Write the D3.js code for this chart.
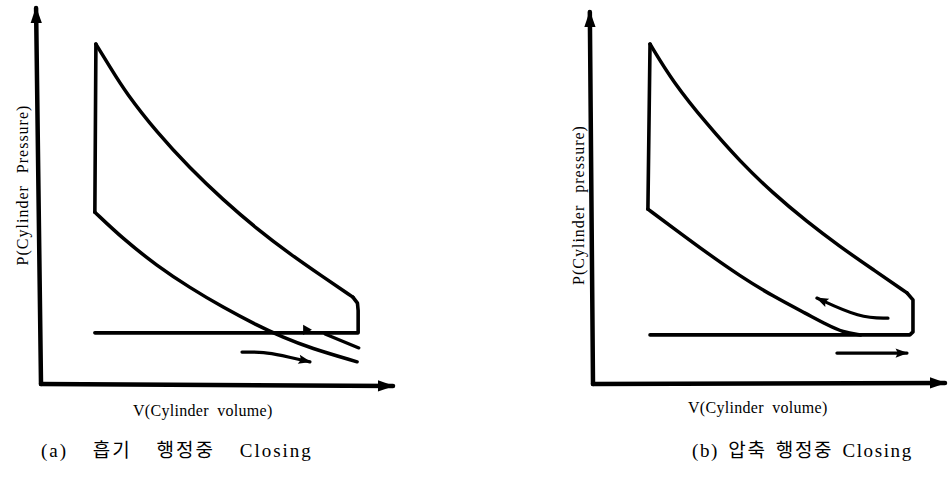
<!DOCTYPE html>
<html>
<head>
<meta charset="utf-8">
<script src="https://cdn.jsdelivr.net/npm/d3@7"></script>
<style>
  html, body { margin: 0; padding: 0; background: #fff; }
  svg { display: block; }
</style>
</head>
<body>
<svg id="chart" width="950" height="482"></svg>
<script>
// ---------- data (V, P in relative units 0..100) ----------
const panelIds = ["a", "b"];
const yAxisLabels = ["P(Cylinder Pressure)", "P(Cylinder pressure)"];
const xAxisLabels = ["V(Cylinder volume)", "V(Cylinder volume)"];
const captions = ["(a) 흡기 행정중 Closing", "(b) 압축 행정중 Closing"];

// panel (a)
const aAxisY = [[0, 0], [-1.4, 100]];
const aAxisX = [[0, 0], [100, -0.5]];
const aVertical = [[15.3, 45.7], [15.6, 90.4]];
const aExpansion = [[15.6, 90.4], [19.8, 84.0], [24.0, 77.6], [33.0, 66.8], [42.3, 57.4], [51.7, 49.0], [61.4, 41.2], [70.7, 34.6], [80.1, 28.5], [88.6, 23.1]];
const aExhaust = [[88.6, 23.1], [89.9, 21.5], [90.1, 19.5], [90.1, 13.6], [15.3, 13.6]];
const aCompression = [[15.3, 45.7], [23.3, 38.6], [33.0, 31.4], [42.3, 25.6], [51.7, 20.4], [61.4, 15.6], [68.8, 12.4], [76.4, 9.6], [89.8, 5.9]];
const aClosingLine = [[80.7, 13.3], [90.3, 9.6]];
const aFlag = [[75.3, 14.4]];
const aArrow = [[57.1, 8.5], [63.6, 8.5], [67.9, 7.7], [76.4, 5.9]];

// panel (b)
const bAxisY = [[0, 0], [-0.9, 100]];
const bAxisX = [[0, 0], [100, 0.3]];
const bVertical = [[15.6, 47.0], [16.2, 91.4]];
const bExpansion = [[16.2, 91.4], [22.7, 81.2], [32.4, 69.8], [41.8, 59.8], [51.1, 51.3], [60.8, 43.6], [70.2, 36.9], [79.5, 30.8], [89.2, 24.5]];
const bExhaust = [[89.2, 24.5], [90.9, 22.6], [90.9, 14.0], [90.0, 13.2], [16.2, 13.2]];
const bCompression = [[15.6, 47.0], [22.7, 42.0], [32.4, 35.2], [41.8, 29.0], [51.1, 23.6], [60.8, 18.8], [66.5, 15.9], [71.0, 13.9], [76.0, 13.2]];
const bArrowUp = [[83.8, 17.7], [75.9, 17.7], [63.6, 23.1]];
const bArrowLow = [[69.3, 8.3], [89.2, 8.3]];

// ---------- layout ----------
const frames = {
  a: { x: [41, 393], y: [384, 8], yLab: [22, 185], xLab: [133, 416], cap: [41, 457], capLS: 2, capWS: 18 },
  b: { x: [593, 945], y: [384, 12], yLab: [578, 205], xLab: [688, 413], cap: [692, 457], capLS: 1.6, capWS: 3 }
};
const svg = d3.select("#chart");
const defs = svg.append("defs");
defs.append("marker").attr("id", "axisHead")
  .attr("markerUnits", "userSpaceOnUse").attr("markerWidth", 20).attr("markerHeight", 20)
  .attr("viewBox", "-14 -6 16 12").attr("refX", 0).attr("refY", 0).attr("orient", "auto")
  .append("path").attr("d", "M1,0 L-12,-4.5 L-12,4.5 Z").attr("fill", "#000");
defs.append("marker").attr("id", "flowHead")
  .attr("markerUnits", "userSpaceOnUse").attr("markerWidth", 16).attr("markerHeight", 16)
  .attr("viewBox", "-12 -6 14 12").attr("refX", 0).attr("refY", 0).attr("orient", "auto")
  .append("path").attr("d", "M1,0 L-10,-4 L-8,0 L-10,4 Z").attr("fill", "#000");

const serif = "'Liberation Serif', 'DejaVu Serif', 'Noto Sans CJK KR', serif";

function drawPanel(id, i, d) {
  const f = frames[id];
  const x = d3.scaleLinear().domain([0, 100]).range(f.x);
  const y = d3.scaleLinear().domain([0, 100]).range(f.y);
  const g = svg.append("g").attr("class", "panel-" + id);
  const lin = d3.line().x(p => x(p[0])).y(p => y(p[1]));
  const smooth = d3.line().x(p => x(p[0])).y(p => y(p[1])).curve(d3.curveBasis);
  const stroke = (sel, w) => sel.attr("fill", "none").attr("stroke", "#000").attr("stroke-width", w)
    .attr("stroke-linecap", "round").attr("stroke-linejoin", "round");

  // axes
  stroke(g.append("path").attr("d", lin(d.axisY)), 4.5).attr("marker-end", "url(#axisHead)");
  stroke(g.append("path").attr("d", lin(d.axisX)), 4.5).attr("marker-end", "url(#axisHead)");

  // cycle
  stroke(g.append("path").attr("d", lin(d.vertical)), 3.6);
  stroke(g.append("path").attr("d", smooth(d.expansion)), 3.5);
  stroke(g.append("path").attr("d", lin(d.exhaust)), 3.6);
  stroke(g.append("path").attr("d", smooth(d.compression)), 3.5);

  // extras
  (d.lines || []).forEach(l => stroke(g.append("path").attr("d", lin(l)), 3.2));
  (d.arrows || []).forEach(l => stroke(g.append("path").attr("d", smooth(l)), 3.2).attr("marker-end", "url(#flowHead)"));
  (d.flags || []).forEach(p => {
    g.append("path")
      .attr("d", d3.symbol().type(d3.symbolTriangle).size(45)())
      .attr("transform", `translate(${x(p[0])},${y(p[1])}) rotate(90)`)
      .attr("fill", "#000");
  });

  // labels
  g.append("text")
    .attr("transform", `translate(${f.yLab[0]},${f.yLab[1]}) rotate(-90)`)
    .attr("text-anchor", "middle").attr("dominant-baseline", "central")
    .attr("font-family", serif).attr("font-size", 16)
    .attr("letter-spacing", 1).attr("word-spacing", 7)
    .text(yAxisLabels[i]);
  g.append("text")
    .attr("x", f.xLab[0]).attr("y", f.xLab[1])
    .attr("font-family", serif).attr("font-size", 16)
    .attr("letter-spacing", 0.3).attr("word-spacing", 4)
    .text(xAxisLabels[i]);
  g.append("text")
    .attr("x", f.cap[0]).attr("y", f.cap[1])
    .attr("font-family", serif).attr("font-size", 19)
    .attr("letter-spacing", f.capLS).attr("word-spacing", f.capWS)
    .text(captions[i]);
}

drawPanel("a", 0, {
  axisY: aAxisY, axisX: aAxisX, vertical: aVertical, expansion: aExpansion,
  exhaust: aExhaust, compression: aCompression, lines: [aClosingLine],
  arrows: [aArrow], flags: aFlag
});
drawPanel("b", 1, {
  axisY: bAxisY, axisX: bAxisX, vertical: bVertical, expansion: bExpansion,
  exhaust: bExhaust, compression: bCompression, lines: [],
  arrows: [bArrowUp, bArrowLow], flags: []
});
</script>
</body>
</html>
